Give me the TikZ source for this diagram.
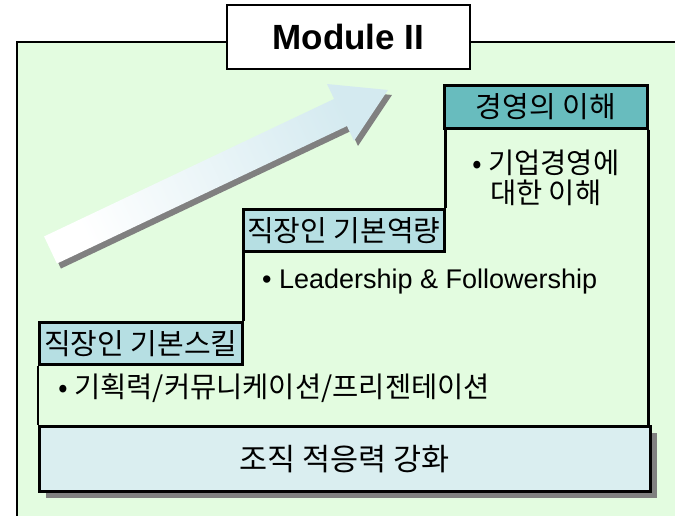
\documentclass[tikz,border=0pt]{standalone}
\usepackage{fontspec}
\setmainfont{Liberation Sans}
\newfontfamily\kr{Noto Sans CJK KR}
\usetikzlibrary{positioning,shadows}
\definecolor{panelgreen}{RGB}{227,252,224}
\definecolor{headteal}{RGB}{104,188,190}
\definecolor{headblue}{RGB}{182,223,227}
\definecolor{baseblue}{RGB}{218,238,240}
\definecolor{arrowblue}{RGB}{212,234,240}
\definecolor{shadowgray}{RGB}{128,128,128}
\tikzset{
  stairline/.style={draw=black,line width=2.5pt},
  headbox/.style={stairline,anchor=north west,minimum width=203,minimum height=43,inner sep=0pt,font=\kr\fontsize{29}{30}\selectfont},
  bodytext/.style={inner sep=0pt,font=\kr\fontsize{28.5}{30}\selectfont}
}
\begin{document}
\begin{tikzpicture}[x=1pt,y=-1pt]
\useasboundingbox (0,0) rectangle (675,515);
\clip (0,0) rectangle (675,515);
% Panel
\fill[panelgreen] (17,42) rectangle (700,540);
\draw[line width=2.5pt] (17,540) -- (17,42) -- (700,42);
\node[draw,line width=2.5pt,fill=white,minimum width=243,minimum height=64,font=\bfseries\fontsize{35}{40}\selectfont] (module) at (348.5,37) {Module II};

% Rising arrow
\begin{scope}[shift={(54.5,255)},rotate=25.37]
\fill[shadowgray] (0,-15) -- (321,-15) -- (321,-31.5) -- (373.5,0) -- (321,31.5) -- (321,15) -- (0,15) -- cycle;
\end{scope}
\begin{scope}[shift={(50.5,250)},rotate=25.37]
\shade[left color=white,right color=arrowblue,shading angle=115.37] (0,-15) -- (321,-15) -- (321,-31.5) -- (373.5,0) -- (321,31.5) -- (321,15) -- (0,15) -- cycle;
\end{scope}

% Steps
\node[headbox,fill=headteal] (mgmt) at (443,84) {경영의 이해};
\node[headbox,fill=headblue,minimum width=201,minimum height=42] (comp) at (242,208) {직장인 기본역량};
\node[headbox,fill=headblue,minimum height=42] (skill) at (38,321) {직장인 기본스킬};
\node[draw,line width=2.5pt,fill=baseblue,anchor=north west,minimum width=611,minimum height=65,
  drop shadow={shadow xshift=7pt,shadow yshift=-7pt,fill=shadowgray,opacity=1},
  font=\kr\fontsize{30.5}{32}\selectfont] (base) at (38,425) {조직 적응력 강화};
\draw[stairline] (skill.south west) -- (skill.south west |- base.north);
\draw[stairline] (skill.north east) -- (skill.north east |- comp.south);
\draw[stairline] (comp.north east) -- (comp.north east |- mgmt.south);
\draw[stairline] (mgmt.south east) -- (mgmt.south east |- base.north);

% Step contents
\node[bodytext,align=center,below=20pt of mgmt] (mgmttext) {• 기업경영에\\대한 이해};
\node[inner sep=0pt,anchor=west,font=\fontsize{27}{30}\selectfont] (comptext) at (262,282) {• Leadership \& Followership};
\node[bodytext,anchor=west] (skilltext) at (58,388) {• 기획력/커뮤니케이션/프리젠테이션};
\end{tikzpicture}
\end{document}
